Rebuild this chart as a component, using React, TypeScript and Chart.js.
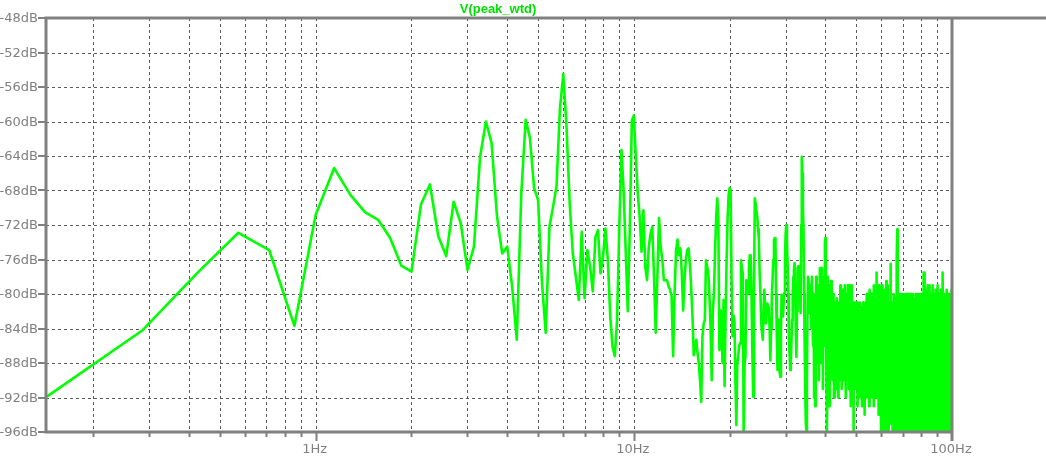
import React, { useEffect, useRef } from "react";
import { Chart, registerables } from "chart.js";

Chart.register(...registerables);

// ---- Text ----
const TITLE = "V(peak_wtd)";

// ---- Frequency axis (FFT bins, resolution 1/7 Hz) ----
const BIN_HZ = 1 / 7;
const X_MIN = 0.142;
const X_MAX = 100;
const X_GRID = [0.2, 0.3, 0.4, 0.5, 0.6, 0.7, 0.8, 0.9, 1, 2, 3, 4, 5, 6, 7, 8, 9, 10, 20, 30, 40, 50, 60, 70, 80, 90];
const X_LABEL_VALUES = [1, 10, 100];
const X_LABEL_TEXT = ["1Hz", "10Hz", "100Hz"];

// ---- Magnitude axis ----
const Y_MIN = -96;
const Y_MAX = -48;
const Y_TICKS = [-48, -52, -56, -60, -64, -68, -72, -76, -80, -84, -88, -92, -96];
const Y_TICK_TEXT = ["-48dB", "-52dB", "-56dB", "-60dB", "-64dB", "-68dB", "-72dB", "-76dB", "-80dB", "-84dB", "-88dB", "-92dB", "-96dB"];

// ---- Series values (dB), bins 1..95 ----
const MAG_LOW = [
  -91.9, -84.2, -77.4, -72.9, -74.9, -83.7, -70.8, -65.4, -68.5, -70.5,
  -71.4, -73.5, -76.7, -77.4, -69.6, -67.3, -73.3, -75.6, -69.3, -71.8,
  -77.2, -74.5, -64.1, -60.0, -62.5, -71.0, -75.3, -74.5, -79.1, -85.3,
  -68.3, -59.8, -61.9, -67.7, -69.1, -78.7, -84.5, -72.2, -69.9, -67.5,
  -58.5, -54.5, -60.6, -69.5, -75.3, -78.0, -80.7, -72.8, -80.5, -74.9,
  -76.8, -79.7, -73.4, -72.6, -77.6, -75.7, -72.4, -76.1, -82.6, -86.1,
  -87.2, -83.0, -72.2, -63.3, -68.0, -75.0, -82.0, -72.2, -59.9, -59.3,
  -64.0, -68.3, -71.0, -75.1, -70.3, -76.8, -78.4, -74.5, -73.0, -72.2,
  -78.0, -84.5, -78.0, -71.2, -74.5, -76.0, -78.4, -78.4, -78.4, -79.1,
  -79.5, -80.3, -87.2, -80.0, -75.0,
];

// bins 96..250
const MAG_MID = [
  -73.7, -75.5, -74.7, -77.4, -81.9, -78.4, -76.0, -74.9, -74.7, -76.5,
  -79.2, -82.6, -87.1, -86.0, -85.3, -86.9, -88.0, -90.0, -92.5, -84.9,
  -83.5, -83.0, -76.1, -76.8, -77.6, -80.3, -84.0, -90.0, -82.0, -79.9,
  -75.0, -71.2, -68.9, -71.2, -86.5, -81.9, -84.0, -88.0, -80.7, -90.7,
  -82.0, -76.0, -71.0, -68.5, -67.7, -67.9, -78.4, -84.9, -82.5, -83.2,
  -90.0, -95.2, -88.0, -87.3, -86.0, -85.7, -76.1, -77.0, -77.6, -96.8,
  -88.0, -87.3, -78.4, -80.0, -79.9, -77.0, -75.5, -75.5, -80.0, -86.5,
  -91.9, -80.0, -68.9, -69.5, -70.5, -71.0, -72.5, -73.7, -77.6, -80.0,
  -83.4, -84.5, -85.3, -82.0, -79.5, -81.5, -83.4, -82.0, -81.1, -81.5,
  -81.9, -84.0, -87.7, -84.0, -80.0, -78.4, -76.0, -73.7, -73.5, -73.5,
  -80.0, -85.0, -88.8, -83.0, -85.0, -89.0, -89.6, -84.0, -80.1, -81.0,
  -82.6, -81.0, -79.9, -76.0, -73.0, -72.0, -74.0, -76.4, -80.0, -85.3,
  -87.0, -88.8, -88.0, -85.5, -83.0, -80.0, -78.0, -77.2, -76.4, -80.0,
  -84.0, -87.3, -82.0, -77.0, -76.8, -77.5, -78.0, -80.0, -82.2, -72.0,
  -64.1, -66.0, -70.0, -72.6, -80.0, -86.0, -91.1, -95.0, -95.8, -90.0,
  -82.0, -78.0, -78.0, -79.0, -82.2,
];

// bins 251..700
const MAG_HIGH = [
  -82, -79, -84, -78, -83, -86, -80, -92, -85, -93,
  -84, -78, -88, -81, -86, -79, -90, -83, -77, -85,
  -88, -77, -84, -80, -91, -82, -78, -86, -74, -73.5,
  -80, -88, -96, -90, -78, -84, -79, -93, -86, -80,
  -89, -78.5, -85, -82, -90, -87, -80, -92, -84, -81,
  -88, -82, -91, -80.5, -86, -84, -92, -81, -87, -83,
  -90, -79, -85, -82, -91, -79.5, -88, -84, -80, -90,
  -83, -79, -87, -81, -92, -80, -85, -90, -79, -86,
  -82, -91, -79, -84, -88, -80, -93, -83, -79, -86,
  -90, -81, -96, -89, -82, -86, -81, -91, -84, -81.5,
  -88, -83, -93, -81, -86, -90, -82, -87, -81, -92,
  -84, -81.5, -89, -85, -93, -82, -87, -81, -90, -84,
  -82, -94, -86, -81, -88, -83, -92, -80, -85, -91,
  -80, -87, -82, -93, -79.5, -84, -89, -81, -86, -80,
  -92, -83, -80, -88, -82, -86, -79, -93, -84, -80.5,
  -89, -81, -85, -92, -78, -77.5, -87, -82, -90, -80,
  -84, -94, -79, -86, -83, -91, -80, -88, -97, -81,
  -85, -79, -93, -84, -80, -96, -82, -87, -79.5, -90,
  -83, -98, -80, -86, -78.5, -91, -84, -79, -96, -88,
  -82, -86, -97, -81, -88, -84, -92, -76.5, -87, -95,
  -83, -81, -89, -85, -98, -82, -88, -80, -93, -86,
  -81, -96, -84, -88, -80.5, -91, -85, -97, -82, -76,
  -72.5, -74, -81, -90, -98, -85, -80, -88, -83, -96,
  -86, -81, -93, -84, -80, -88, -97, -82, -87, -81,
  -92, -85, -96, -80, -86, -83, -91, -81.5, -89, -98,
  -84, -80, -88, -85, -96, -82, -90, -83, -93, -80,
  -87, -97, -82, -85, -81, -92, -86, -80, -96, -84,
  -89, -81, -87, -98, -83, -80, -90, -85, -96, -82,
  -80.5, -88, -84, -97, -81, -86, -91, -80, -89, -96,
  -83, -81, -87, -94, -80, -85, -98, -82, -88, -81,
  -92, -86, -80, -96, -84, -89, -81, -87, -97, -83,
  -80, -90, -85, -96, -81, -88, -83, -93, -79, -77.5,
  -96, -78, -86, -77.5, -90, -84, -96, -81, -89, -84,
  -79.5, -92, -86, -81, -97, -83, -88, -79, -93, -85,
  -80, -96, -87, -82, -89, -79, -94, -84, -81, -98,
  -86, -80, -89, -83, -96, -81, -87, -79, -92, -85,
  -82, -97, -88, -80, -90, -84, -96, -81, -86, -79.5,
  -93, -85, -81, -98, -87, -80, -89, -83, -96, -82,
  -88, -79, -92, -86, -81, -97, -84, -80, -90, -85,
  -96, -81, -87, -79.5, -93, -83, -89, -80, -98, -85,
  -82, -90, -79, -88, -77.5, -84, -81, -92, -86, -80,
  -97, -83, -89, -81, -94, -85, -80, -96, -87, -82,
  -89, -79.5, -98, -84, -81, -91, -86, -80, -96, -83,
  -88, -81, -93, -85, -80, -97, -87, -82, -90, -84,
  -80, -96, -86, -81, -92, -83, -88, -79.5, -90, -80,
];

// ---- Style ----
const LINE_COLOR = "#00ff00";
const TITLE_COLOR = "#00e000";
const AXIS_COLOR = "#808080";
const GRID_COLOR = "#5a5a5a";
const LABEL_FONT = '13px "DejaVu Sans"';
const TITLE_FONT = 'bold 13px "Liberation Sans"';

const framePlugin = {
  id: "ltspiceFrame",
  beforeDatasetsDraw(chart: any) {
    const { ctx, chartArea: a, scales } = chart;
    const xs = scales.x;
    const ys = scales.y;
    ctx.save();
    ctx.strokeStyle = GRID_COLOR;
    ctx.lineWidth = 1;
    ctx.setLineDash([3, 3]);
    ctx.beginPath();
    for (const f of X_GRID) {
      const px = Math.round(xs.getPixelForValue(f)) + 0.5;
      ctx.moveTo(px, a.top);
      ctx.lineTo(px, a.bottom);
    }
    for (const d of Y_TICKS) {
      if (d === Y_MAX || d === Y_MIN) continue;
      const py = Math.round(ys.getPixelForValue(d)) + 0.5;
      ctx.moveTo(a.left, py);
      ctx.lineTo(a.right, py);
    }
    ctx.stroke();
    ctx.restore();
  },
  afterDatasetsDraw(chart: any) {
    const { ctx, chartArea: a, scales, width } = chart;
    const xs = scales.x;
    const ys = scales.y;
    ctx.save();
    ctx.setLineDash([]);
    ctx.strokeStyle = AXIS_COLOR;
    ctx.lineCap = "butt";

    // frame
    ctx.lineWidth = 3;
    ctx.beginPath();
    ctx.moveTo(a.left - 1.5, a.top);
    ctx.lineTo(width, a.top);
    ctx.moveTo(a.left, a.top);
    ctx.lineTo(a.left, a.bottom + 1.5);
    ctx.moveTo(a.left - 1.5, a.bottom);
    ctx.lineTo(a.right + 1.5, a.bottom);
    ctx.moveTo(a.right, a.top);
    ctx.lineTo(a.right, a.bottom + 9);
    ctx.stroke();

    // y ticks
    ctx.lineWidth = 2;
    ctx.beginPath();
    for (const d of Y_TICKS) {
      const py = Math.round(ys.getPixelForValue(d));
      ctx.moveTo(a.left - 8, py);
      ctx.lineTo(a.left, py);
    }
    // x ticks
    for (const f of X_GRID) {
      const px = Math.round(xs.getPixelForValue(f)) + 0.5;
      const len = X_LABEL_VALUES.includes(f) ? 9 : 5;
      ctx.moveTo(px, a.bottom);
      ctx.lineTo(px, a.bottom + len);
    }
    ctx.stroke();

    // y labels
    ctx.fillStyle = AXIS_COLOR;
    ctx.font = LABEL_FONT;
    ctx.textAlign = "right";
    ctx.textBaseline = "middle";
    Y_TICKS.forEach((d, i) => {
      ctx.fillText(Y_TICK_TEXT[i], a.left - 8, ys.getPixelForValue(d) + 1);
    });

    // x labels
    ctx.textAlign = "center";
    ctx.textBaseline = "alphabetic";
    X_LABEL_VALUES.forEach((f, i) => {
      ctx.fillText(X_LABEL_TEXT[i], xs.getPixelForValue(f) - 1, a.bottom + 21);
    });

    // title
    ctx.fillStyle = TITLE_COLOR;
    ctx.font = TITLE_FONT;
    ctx.textAlign = "center";
    ctx.fillText(TITLE, 498, 13);
    ctx.restore();
  },
};

export default function App() {
  const canvasRef = useRef<HTMLCanvasElement | null>(null);

  useEffect(() => {
    const canvas = canvasRef.current;
    if (!canvas) return;
    const magnitudes = [...MAG_LOW, ...MAG_MID, ...MAG_HIGH];
    const points = magnitudes.map((v, i) => ({ x: (i + 1) * BIN_HZ, y: v }));

    const chart = new Chart(canvas, {
      type: "line",
      data: {
        datasets: [
          {
            label: TITLE,
            data: points,
            borderColor: LINE_COLOR,
            backgroundColor: LINE_COLOR,
            borderWidth: 2.6,
            borderJoinStyle: "round",
            pointRadius: 0,
            tension: 0,
            fill: false,
            clip: 0,
          } as any,
        ],
      },
      options: {
        animation: false,
        responsive: false,
        devicePixelRatio: 1,
        parsing: false,
        normalized: true,
        layout: { padding: { left: 46, right: 94, top: 18, bottom: 25 } },
        scales: {
          x: { type: "logarithmic", min: X_MIN, max: X_MAX, display: false },
          y: { type: "linear", min: Y_MIN, max: Y_MAX, display: false },
        },
        plugins: {
          legend: { display: false },
          tooltip: { enabled: false },
          title: { display: false },
        },
      },
      plugins: [framePlugin],
    });
    return () => chart.destroy();
  }, []);

  return (
    <div style={{ position: "absolute", left: 0, top: 0, width: 1046, height: 457, background: "#ffffff" }}>
      <canvas ref={canvasRef} width={1046} height={457} style={{ display: "block" }} />
    </div>
  );
}
